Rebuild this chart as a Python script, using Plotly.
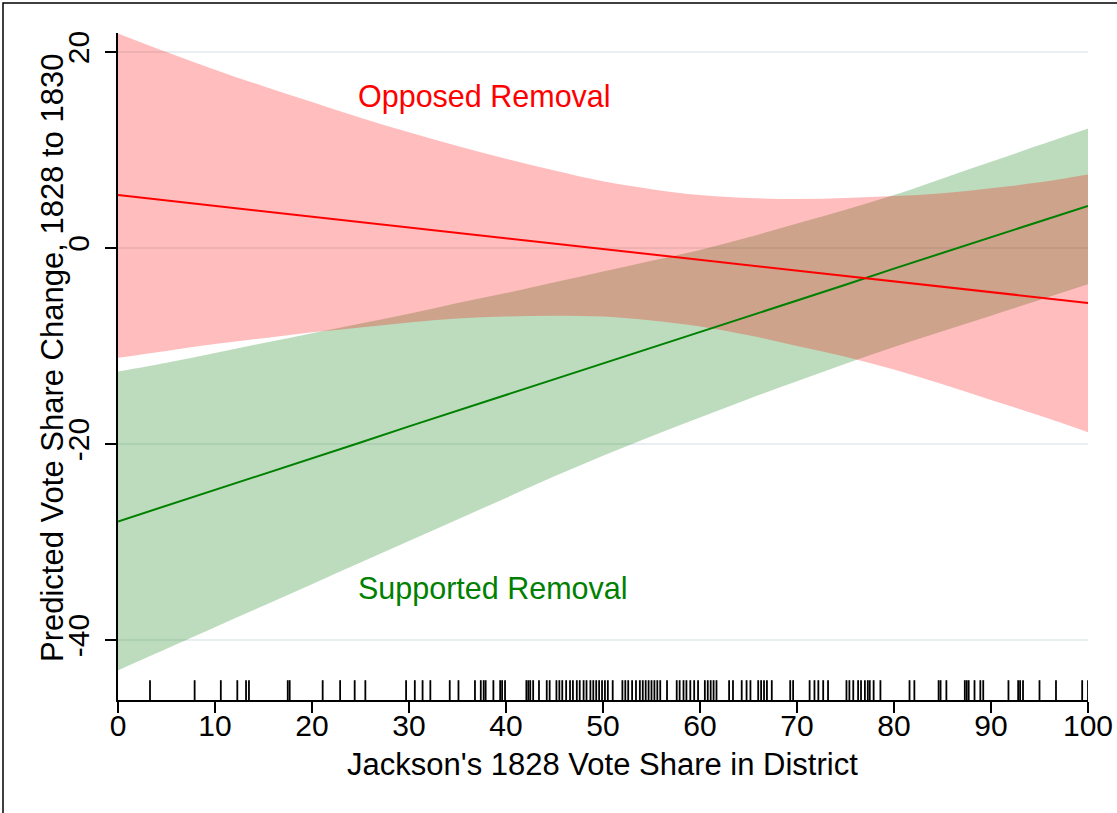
import plotly.graph_objects as go

# ---- data ----
x_grid = [0, 5, 10, 15, 20, 25, 30, 35, 40, 45, 50,
          55, 60, 65, 70, 75, 80, 85, 90, 95, 100]

opposed_fit = [5.4, 4.85, 4.3, 3.75, 3.2, 2.65, 2.1, 1.55, 1.0, 0.45, -0.1,
               -0.65, -1.2, -1.75, -2.3, -2.85, -3.4, -3.95, -4.5, -5.05, -5.6]
opposed_upper = [21.9, 20.0, 18.2, 16.5, 14.9, 13.3, 11.8, 10.4, 9.1, 7.9, 6.8,
                 6.0, 5.4, 5.1, 5.0, 5.1, 5.3, 5.6, 6.1, 6.7, 7.5]
opposed_lower = [-11.2, -10.5, -9.8, -9.2, -8.6, -8.1, -7.6, -7.2, -7.0, -6.9, -7.0,
                 -7.4, -8.0, -8.9, -10.0, -11.1, -12.4, -13.9, -15.5, -17.1, -18.8]

supported_fit = [-27.9, -26.3, -24.7, -23.1, -21.5, -19.85, -18.2, -16.6, -15.0, -13.4, -11.8,
                 -10.2, -8.6, -7.0, -5.4, -3.75, -2.1, -0.5, 1.1, 2.7, 4.3]
supported_upper = [-12.6, -11.7, -10.7, -9.7, -8.7, -7.7, -6.7, -5.6, -4.6, -3.5, -2.4,
                   -1.3, -0.2, 1.1, 2.5, 3.9, 5.4, 7.1, 8.8, 10.5, 12.2]
supported_lower = [-43.1, -40.9, -38.7, -36.5, -34.3, -32.1, -29.9, -27.7, -25.5, -23.3, -21.2,
                   -19.2, -17.3, -15.4, -13.6, -11.8, -10.1, -8.5, -6.9, -5.3, -3.7]

rug_values = [
    3.3, 7.9, 10.6, 12.3, 13.2, 13.5, 17.5, 17.7, 21.1, 22.9, 24.4,
    25.5, 29.7, 30.6, 31.4, 32.2, 34.2, 35.1, 36.8, 37.4, 37.7, 37.9, 38.7,
    39.4, 39.6, 39.9, 42.1, 42.3, 42.5, 42.8, 43.4, 44.2, 44.5,
    45.2, 45.5, 45.8, 46.2, 46.6, 46.9, 47.3, 47.6, 48.0, 48.3, 48.7, 49.0,
    49.3, 49.6, 49.9, 50.2, 50.5, 51.0, 52.0, 52.3, 52.6, 53.0, 53.4, 53.8,
    54.1, 54.4, 54.7, 55.0, 55.3, 55.6, 55.9, 56.6, 57.6, 57.9, 58.3, 58.6,
    59.0, 59.4, 59.8, 60.5, 60.8, 61.1, 61.4, 61.7, 63.0, 63.4, 64.3, 64.8,
    65.2, 66.0, 66.3, 66.6, 66.9, 67.4, 69.3, 69.6, 71.3, 71.8, 72.2, 72.7,
    73.2, 75.1, 75.4, 75.8, 76.3, 76.6, 77.0, 77.3, 77.5, 77.9, 78.6, 81.6,
    82.1, 84.6, 84.8, 85.4, 87.3, 87.5, 87.7, 88.3, 88.9, 89.2, 91.8, 92.8,
    93.0, 93.3, 95.0, 96.7, 99.4, 100.0,
]

x_ticks = [0, 10, 20, 30, 40, 50, 60, 70, 80, 90, 100]
x_ticklabels = ["0", "10", "20", "30", "40", "50", "60", "70", "80", "90", "100"]
y_ticks = [20, 0, -20, -40]
y_ticklabels = ["20", "0", "-20", "-40"]

x_title = "Jackson's 1828 Vote Share in District"
y_title = "Predicted Vote Share Change, 1828 to 1830"
label_opposed = "Opposed Removal"
label_supported = "Supported Removal"

Y_MIN, Y_MAX = -46.12, 21.94
RUG_TOP = -44.1

FONT = "Liberation Sans, Arial, Helvetica, sans-serif"
RED = "rgb(255,0,0)"
GREEN = "rgb(0,128,0)"
RED_FILL = "rgba(255,0,0,0.26)"
GREEN_FILL = "rgba(0,120,0,0.26)"
TXT = 31

# plot-area geometry in pixels (used only to place titles / frame)
PL, PR, PT, PB = 118, 1088, 33, 700
PW, PH = PR - PL, PB - PT

fig = go.Figure()

band_line = dict(width=0, shape="spline", smoothing=1.0)
fig.add_trace(go.Scatter(x=x_grid, y=supported_lower, mode="lines", line=band_line,
                         hoverinfo="skip", showlegend=False))
fig.add_trace(go.Scatter(x=x_grid, y=supported_upper, mode="lines", line=band_line,
                         fill="tonexty", fillcolor=GREEN_FILL,
                         hoverinfo="skip", showlegend=False))
fig.add_trace(go.Scatter(x=x_grid, y=opposed_lower, mode="lines", line=band_line,
                         hoverinfo="skip", showlegend=False))
fig.add_trace(go.Scatter(x=x_grid, y=opposed_upper, mode="lines", line=band_line,
                         fill="tonexty", fillcolor=RED_FILL,
                         hoverinfo="skip", showlegend=False))

fig.add_trace(go.Scatter(x=x_grid, y=supported_fit, mode="lines",
                         line=dict(color=GREEN, width=2), showlegend=False))
fig.add_trace(go.Scatter(x=x_grid, y=opposed_fit, mode="lines",
                         line=dict(color=RED, width=2), showlegend=False))

rx, ry = [], []
for v in rug_values:
    rx += [v, v, None]
    ry += [Y_MIN, RUG_TOP, None]
fig.add_trace(go.Scatter(x=rx, y=ry, mode="lines",
                         line=dict(color="black", width=1.8),
                         hoverinfo="skip", showlegend=False, cliponaxis=False))

fig.add_annotation(x=24.5, y=15.5, text=label_opposed, showarrow=False,
                   xanchor="left", yanchor="middle",
                   font=dict(family=FONT, size=30.5, color=RED))
fig.add_annotation(x=24.5, y=-34.7, text=label_supported, showarrow=False,
                   xanchor="left", yanchor="middle",
                   font=dict(family=FONT, size=30.5, color=GREEN))

# Axis titles as paper annotations
fig.add_annotation(xref="paper", yref="paper",
                   x=(602 - PL) / PW, y=(PB - 764) / PH,
                   text=x_title, showarrow=False, xanchor="center", yanchor="middle",
                   font=dict(family=FONT, size=TXT, color="black"))
fig.add_annotation(xref="paper", yref="paper",
                   x=(52 - PL) / PW, y=(PB - 358) / PH,
                   text=y_title, showarrow=False, textangle=-90,
                   xanchor="center", yanchor="middle",
                   font=dict(family=FONT, size=TXT, color="black"))

# Outer frame
fig.add_shape(type="rect", xref="paper", yref="paper",
              x0=(3 - PL) / PW, x1=(1125 - PL) / PW,
              y0=(PB - 825) / PH, y1=1 + (PT - 3) / PH,
              line=dict(color="black", width=1.5), fillcolor="rgba(0,0,0,0)",
              layer="above")

fig.update_layout(
    width=1117, height=813,
    margin=dict(l=PL, r=1117 - PR, t=PT, b=813 - PB, pad=0, autoexpand=False),
    paper_bgcolor="white", plot_bgcolor="white",
    font=dict(family=FONT, size=30, color="black"),
    showlegend=False,
)
fig.update_xaxes(
    range=[0, 100], tickvals=x_ticks, ticktext=x_ticklabels,
    ticks="outside", ticklen=11, automargin=False, ticklabelstandoff=-13,
    tickwidth=1.5, tickcolor="black", showline=True, linecolor="black",
    linewidth=1.5, showgrid=False, zeroline=False,
    tickfont=dict(family=FONT, size=30),
)
fig.update_yaxes(
    range=[Y_MIN, Y_MAX], tickvals=y_ticks, ticktext=y_ticklabels,
    ticks="outside", ticklen=11, automargin=False, ticklabelstandoff=4,
    tickwidth=1.5, tickcolor="black", showline=True, linecolor="black",
    linewidth=1.5, showgrid=True, gridcolor="rgb(231,239,241)", gridwidth=1.6,
    zeroline=False, tickangle=-90,
    tickfont=dict(family=FONT, size=30),
)

fig.write_html("out.html", config={"displayModeBar": False},
               post_script="document.body.style.margin='0';")
